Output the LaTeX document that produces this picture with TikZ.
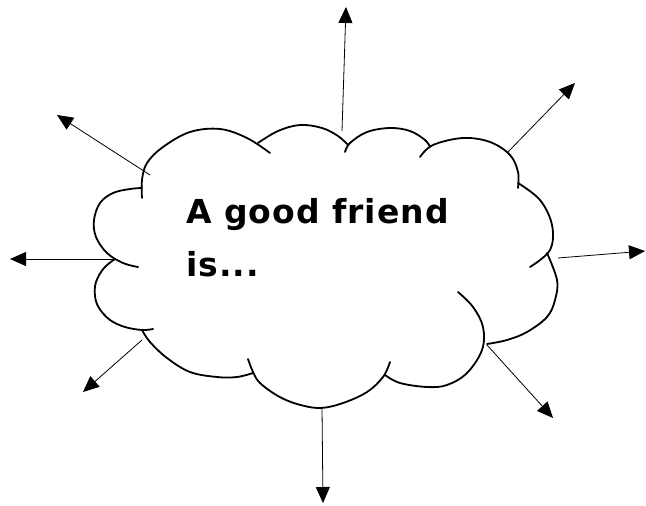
\documentclass[tikz,border=0pt]{standalone}
\usepackage{fontspec}
\setmainfont{DejaVu Sans}
\newfontfamily\labelfont[LetterSpace=3]{DejaVu Sans}
\usetikzlibrary{arrows.meta}
\begin{document}
\begin{tikzpicture}[x=1pt,y=-1pt,
  cloudline/.style={line width=1.8pt,line cap=round},
  ray/.style={line width=0.8pt,-{Triangle[length=16pt,width=14pt]}},
  txt/.style={anchor=base west,inner sep=0pt,font=\labelfont\bfseries\fontsize{33}{38}\selectfont}]
\useasboundingbox (0,0) rectangle (646,506);
% cloud bumps
\draw[cloudline] plot[smooth,tension=0.6] coordinates {(142,198) (142,180) (147,163) (163,147) (190,132) (220,129) (247,138) (270,153)};
\draw[cloudline] plot[smooth,tension=0.6] coordinates {(258,143) (278,131) (300,125) (322,128) (338,136) (348,145)};
\draw[cloudline] plot[smooth,tension=0.6] coordinates {(345,152) (350,143) (367,132) (390,128) (410,131) (425,140) (430,147)};
\draw[cloudline] plot[smooth,tension=0.6] coordinates {(420,157) (433,145) (463,138) (490,142) (510,155) (518,172) (518,188)};
\draw[cloudline] plot[smooth,tension=0.6] coordinates {(518,183) (540,200) (552,225) (550,250) (530,267)};
\draw[cloudline] plot[smooth,tension=0.6] coordinates {(547,253) (557,280) (555,300) (547,317) (527,332) (507,340) (487,344)};
\draw[cloudline] plot[smooth,tension=0.6] coordinates {(458,292) (473,307) (483,327) (482,350) (467,373) (447,385) (427,387) (400,383) (385,375)};
\draw[cloudline] plot[smooth,tension=0.6] coordinates {(390,362) (383,377) (367,392) (343,403) (320,408) (297,404) (278,396) (260,383) (253,372) (248,359)};
\draw[cloudline] plot[smooth,tension=0.6] coordinates {(253,373) (237,377) (217,377) (190,372) (167,358) (150,342) (142,330)};
\draw[cloudline] plot[smooth,tension=0.6] coordinates {(115,259) (104,268) (96,282) (95,296) (99,308) (110,320) (125,327) (142,330) (153,329)};
\draw[cloudline] plot[smooth,tension=0.6] coordinates {(138,267) (123,263) (107,253) (96,237) (94,220) (100,203) (113,193) (130,189) (142,188)};
% text
\node[txt] (line1) at (186,223) {A good friend};
\node[txt] (line2) at (186,276) {is...};
% ray coordinates
\coordinate (s1) at (342,131); \coordinate (e1) at (346,7);
\coordinate (s2) at (150,175); \coordinate (e2) at (57,115);
\coordinate (s3) at (507,153); \coordinate (e3) at (575,83);
\coordinate (s4) at (117,259); \coordinate (e4) at (10,259);
\coordinate (s5) at (558,258); \coordinate (e5) at (645,251);
\coordinate (s6) at (142,340); \coordinate (e6) at (83,392);
\coordinate (s7) at (487,345); \coordinate (e7) at (553,418);
\coordinate (s8) at (322,408); \coordinate (e8) at (323,503);
\foreach \i in {1,...,8} {\draw[ray] (s\i) -- (e\i);}
\end{tikzpicture}
\end{document}
